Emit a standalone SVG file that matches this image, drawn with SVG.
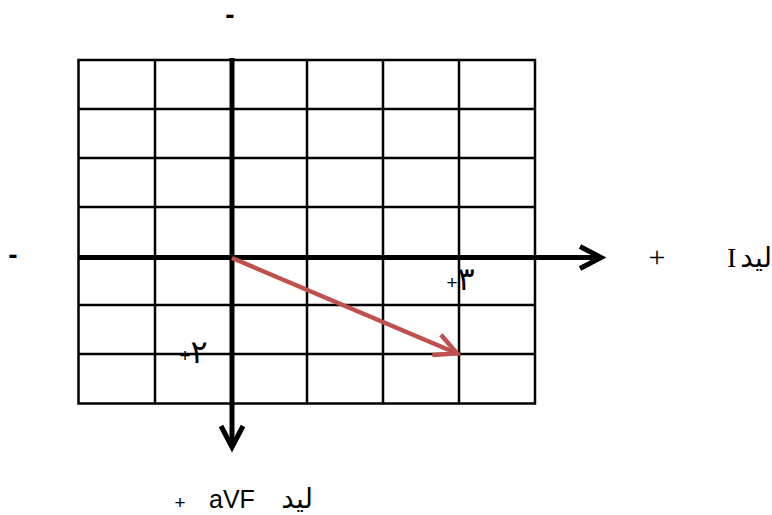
<svg xmlns="http://www.w3.org/2000/svg" width="772" height="515" viewBox="0 0 772 515">
<style>
.grid{stroke:#000;stroke-width:2.5;fill:none}
.axis{stroke:#000;stroke-width:5;fill:none}
.vec{stroke:#c0504d;stroke-width:4.5;fill:none}
.sans{font-family:"Liberation Sans","DejaVu Sans",sans-serif;fill:#000}
.serif{font-family:"Liberation Serif","DejaVu Serif","DejaVu Sans",serif;fill:#000}
.ar{font-family:"DejaVu Sans","Liberation Serif",sans-serif;fill:#000}
</style>
<defs>
<marker id="hb" markerUnits="userSpaceOnUse" markerWidth="40" markerHeight="40" refX="0" refY="0" viewBox="-30 -20 40 40" orient="auto" overflow="visible">
<path d="M-20,-11 L1,0 L-20,11" fill="none" stroke="#000" stroke-width="5"/>
</marker>
<marker id="hr" markerUnits="userSpaceOnUse" markerWidth="40" markerHeight="40" refX="0" refY="0" viewBox="-30 -20 40 40" orient="auto" overflow="visible">
<path d="M-21,-11 L1,0 L-21,11" fill="none" stroke="#c0504d" stroke-width="4.5"/>
</marker>
</defs>
<rect width="772" height="515" fill="#fff"/>
<g id="grid" class="grid">
<rect x="78.5" y="60" width="456.5" height="343.5"/>
<path d="M155,60V403.5M307,60V403.5M383,60V403.5M459,60V403.5"/>
<path d="M78.5,109H535M78.5,158H535M78.5,207H535M78.5,305H535M78.5,354H535"/>
</g>
<g id="connectors">
<path class="axis" d="M78,257.5H600" marker-end="url(#hb)"/>
<path class="axis" d="M232,58V446" marker-end="url(#hb)"/>
<path class="vec" d="M232,258L456,353" marker-end="url(#hr)"/>
</g>
<g id="labels">
<text class="sans" x="230" y="24" font-size="28" font-weight="bold" text-anchor="middle">-</text>
<text class="sans" x="13" y="264" font-size="28" font-weight="bold" text-anchor="middle">-</text>
<text class="serif" x="657" y="267" font-size="30" text-anchor="middle">+</text>
<text class="serif" x="727" y="267" font-size="28">I</text>
<text class="ar" x="772" y="267" font-size="28" text-anchor="end">لید</text>
<text class="sans" x="452" y="289" font-size="19" text-anchor="middle">+</text>
<text class="ar" x="466" y="290" font-size="32" text-anchor="middle">٣</text>
<text class="sans" x="185" y="362" font-size="19" text-anchor="middle">+</text>
<text class="ar" x="199" y="363" font-size="32" text-anchor="middle">٢</text>
<text class="sans" x="180" y="509" font-size="19" text-anchor="middle">+</text>
<text class="sans" x="209" y="508" font-size="25">aVF</text>
<text class="ar" x="313" y="508" font-size="28" text-anchor="end">لید</text>
</g>
</svg>
